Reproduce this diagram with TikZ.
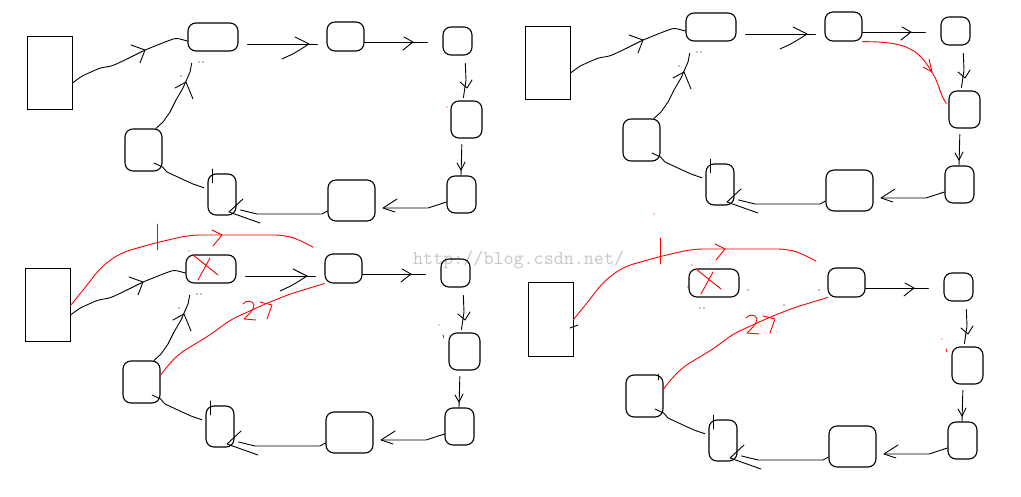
\documentclass[tikz,border=0pt]{standalone}
\begin{document}
\begin{tikzpicture}[x=1pt,y=-1pt,
  rbox/.style={draw, rounded corners=8pt, inner sep=0pt, line width=1.1pt},
  sbox/.style={draw, inner sep=0pt, line width=1pt},
  ink/.style={draw=black, line width=0.9pt, line join=round, line cap=round},
  redink/.style={draw=red, line width=0.9pt, line join=round, line cap=round},
  wm/.style={anchor=base west, inner sep=0pt, text=black!22, font=\ttfamily\fontsize{19.5}{19.5}\selectfont}]
\useasboundingbox (0,0) rectangle (1021,497);
\fill[white] (0,0) rectangle (1021,497);

% watermark
\node[wm] (wmark) at (413,265) {http://blog.csdn.net/};

\newcommand\PanelNodes{%
  \node[sbox, minimum width=45pt, minimum height=73pt] (R) at (49.5,73.5) {};
  \node[rbox, minimum width=50pt, minimum height=28pt] (A) at (213,37) {};
  \node[rbox, minimum width=37pt, minimum height=29pt] (B) at (345.5,36.5) {};
  \node[rbox, minimum width=29pt, minimum height=28pt] (C) at (457.5,41) {};
  \node[rbox, minimum width=31pt, minimum height=37pt] (D) at (466.5,119.5) {};
  \node[rbox, minimum width=29pt, minimum height=37pt] (E) at (461.5,194.5) {};
  \node[rbox, minimum width=47pt, minimum height=41pt] (F) at (351.5,200.5) {};
  \node[rbox, minimum width=28pt, minimum height=41pt] (G) at (222,194.5) {};
  \node[rbox, minimum width=37pt, minimum height=42pt] (H) at (143.5,150) {};
}
\newcommand\ConRA{%
  \draw[ink, rounded corners=3pt] (R.east |- 0,83) -- (82,76) -- (100,68) -- (112,66) -- (125,60) -- (145,50) -- (165,42) -- (176,38) -- (A.west |- 0,41);
  \draw[ink] (131,45) -- (145,50) -- (140,63);
}
\newcommand\ConAB{%
  \draw[ink, shorten <=9pt, shorten >=9pt] (A.east |- 0,44) -- (B.west |- 0,44);
  \draw[ink] (295,37) -- (309,44) .. controls (295,53) .. (282,59);
}
\newcommand\ConBC{%
  \draw[ink, shorten >=15pt] (B.east |- 0,42) -- (C.west |- 0,42);
  \draw[ink] (404,37) -- (413,42) -- (403,50);
}
\newcommand\ConCD{%
  \draw[ink, shorten <=8pt, shorten >=3pt] (C.south -| 465,0) -- (466,80) -- (D.north -| 463,0);
  \draw[ink] (460,82) -- (467,88) -- (472,80);
}
\newcommand\ConDE{%
  \draw[ink, shorten <=6pt] (D.south -| 462,0) -- (E.north -| 461,0);
  \draw[ink] (457,163) -- (461,170) -- (465,162);
}
\newcommand\ConEF{%
  \draw[ink, shorten >=8pt] (E.west |- 0,202) -- (428,208) -- (F.east |- 0,208);
  \draw[ink] (397,199) -- (383,208) -- (395,212);
}
\newcommand\ConFG{%
  \draw[ink, shorten >=4pt] (F.west |- 0,211) -- (322,214) -- (257,214) -- (G.east |- 0,209);
  \draw[ink] (243,199) -- (229,212) -- (260,223);
}
\newcommand\ConGH{%
  \draw[ink, shorten <=4pt] (G.west |- 0,189) -- (193,184) -- (182,179) -- (167,172) -- (H.east |- 0,167) -- (154,163);
  \draw[ink] (212,169) -- (212,183);
}
\newcommand\ConHA{%
  \draw[ink, shorten >=12pt] (H.north -| 156,0) -- (163,122) -- (170,112) -- (176,100) -- (183,88) -- (190,72) -- (A.south -| 194,0);
  \draw[ink] (175,88) -- (186,82) -- (193,99);
  \fill (181,76) circle (0.7);
}
\newcommand\TopDots{%
  \fill (199,62) circle (0.7) (203,62) circle (0.7);
}
\newcommand\RedSteps{%
  % step 1: R -> B
  \draw[redink, rounded corners=10pt, shorten >=13pt] (R.east) -- (90,52) -- (102,36) -- (122,21) -- (157,11) -- (192,3) -- (287,3) -- (302,8) -- (B.north west);
  \draw[redink] (159,-8) -- (159,18);
  \draw[redink] (214,-2) -- (224,3) -- (215,14);
  % cross over A
  \draw[redink] (195,23) -- (220,43) (212,26) -- (200,48);
  \fill[red] (191,19) circle (0.7);
  % step 2: H -> B
  \draw[redink, rounded corners=8pt] (B.south west) -- (292,62) -- (267,72) -- (232,88) -- (212,103) -- (182,121) -- (172,131) -- (H.east |- 0,143);
  \draw[redink] (245,72) .. controls (248,68) and (255,68) .. (256,73) .. controls (256,78) and (250,83) .. (246,87) -- (258,88);
  \draw[redink] (262,70) -- (274,73) -- (269,87);
  \fill[red] (441,93) circle (0.7);
  \draw[redink] (445,103) -- (446,106);
}

% ---------- panel 1 ----------
\begin{scope}[name prefix=pa-]
  \PanelNodes
  \ConRA \ConAB \ConBC \ConCD \ConDE \ConEF \ConFG \ConGH \ConHA \TopDots
  \fill[red] (447,107) circle (0.7);
\end{scope}

% ---------- panel 2 ----------
\begin{scope}[shift={(498,-10)}, name prefix=pb-]
  \PanelNodes
  \ConRA \ConAB \ConBC \ConCD \ConDE \ConEF \ConFG \ConGH \ConHA \TopDots
  \draw[redink, rounded corners=8pt, shorten >=4pt] (B.south east) -- (384,52) -- (399,54) -- (412,58) -- (424,67) -- (434,82) -- (440,93) -- (443,105) -- (D.west |- 0,117);
  \draw[redink] (425,77) -- (434,82) -- (431,69);
\end{scope}
\fill[red] (654,214) circle (0.7) (660,239) circle (0.7);

% ---------- panel 3 ----------
\begin{scope}[shift={(-2,232)}, name prefix=pc-]
  \PanelNodes
  \ConRA \ConAB \ConBC \ConCD \ConDE \ConEF \ConFG \ConGH \ConHA \TopDots
  \RedSteps
\end{scope}

% ---------- panel 4 ----------
\begin{scope}[shift={(501,246)}, name prefix=pd-]
  \PanelNodes
  \ConBC \ConCD \ConDE \ConEF \ConFG \ConGH \TopDots
  \RedSteps
  \draw[ink] (69,82) -- (77,79);
  \draw[ink] (157,128) -- (157,134);
  \fill (247,44) circle (0.7) (318,44) circle (0.7) (283,59) circle (0.7) (187,41) circle (0.7);
\end{scope}
\end{tikzpicture}
\end{document}
